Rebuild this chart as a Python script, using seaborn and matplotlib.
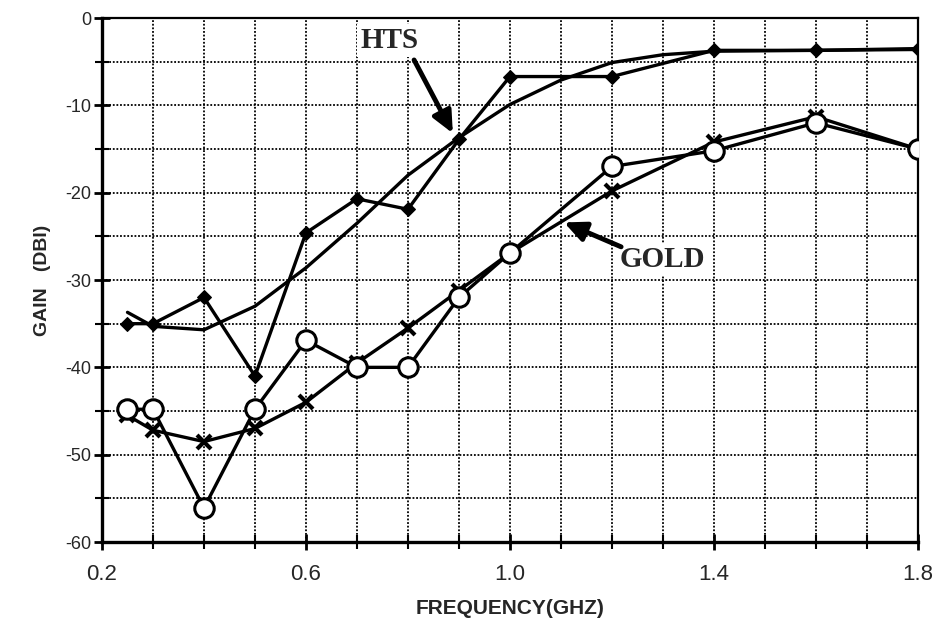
import numpy as np
import pandas as pd
import matplotlib
matplotlib.use("Agg")
import matplotlib.pyplot as plt
from matplotlib.ticker import MultipleLocator, FixedLocator, FormatStrFormatter
import seaborn as sns

# ==================== DATA ====================
freq = [0.25, 0.3, 0.4, 0.5, 0.6, 0.7, 0.8, 0.9, 1.0, 1.2, 1.4, 1.6, 1.8]
hts_meas = [-35.0, -35.0, -32.0, -41.0, -24.6, -20.7, -21.9, -13.9, -6.7, -6.7, -3.7, -3.7, -3.6]
gold_circle = [-44.8, -44.8, -56.1, -44.8, -36.9, -40.0, -40.0, -32.0, -26.9, -17.0, -15.2, -12.0, -15.0]
gold_cross = [-45.5, -47.2, -48.5, -47.0, -44.0, -39.5, -35.5, -31.2, -26.9, -19.8, -14.2, -11.3, -15.0]

# smooth (fitted) HTS curve, no markers
hts_fit_freq = [0.25, 0.3, 0.4, 0.5, 0.6, 0.7, 0.8, 0.9, 1.0, 1.1, 1.2, 1.3, 1.4, 1.6, 1.8]
hts_fit = [-33.7, -35.3, -35.7, -33.0, -28.6, -23.5, -18.0, -13.7, -9.9, -7.1, -5.1, -4.2, -3.8, -3.7, -3.5]

x_major = [0.2, 0.6, 1.0, 1.4, 1.8]
# ==============================================

sns.set_style("white")
plt.rcParams['font.family'] = ['Liberation Sans', 'DejaVu Sans']

fig = plt.figure(figsize=(9.4, 6.22), dpi=100)
ax = fig.add_axes([0.1085, 0.1286, 0.868, 0.8424])

lw = 2.4
sns.lineplot(x=hts_fit_freq, y=hts_fit, ax=ax, color='black', linewidth=lw, zorder=3)
sns.lineplot(x=freq, y=hts_meas, ax=ax, color='black', linewidth=lw, marker='D',
             markersize=7.5, markerfacecolor='black', markeredgecolor='black', zorder=4)
sns.lineplot(x=freq, y=gold_cross, ax=ax, color='black', linewidth=lw, marker='x',
             markersize=10, markeredgewidth=3, markeredgecolor='black', zorder=4)
sns.lineplot(x=freq, y=gold_circle, ax=ax, color='black', linewidth=lw, marker='o',
             markersize=14, markerfacecolor='white', markeredgecolor='black',
             markeredgewidth=2.2, zorder=5)

ax.set_xlim(0.2, 1.8)
ax.set_ylim(-60, 0)
ax.xaxis.set_major_locator(FixedLocator(x_major))
ax.xaxis.set_minor_locator(MultipleLocator(0.1))
ax.yaxis.set_major_locator(MultipleLocator(10))
ax.yaxis.set_minor_locator(MultipleLocator(5))
ax.xaxis.set_major_formatter(FormatStrFormatter('%.1f'))
ax.yaxis.set_major_formatter(FormatStrFormatter('%d'))

ax.grid(True, which='both', color='black', linestyle=(0, (1, 1)), linewidth=1.3, zorder=1)
ax.set_axisbelow(True)

for side in ['left', 'bottom']:
    ax.spines[side].set_linewidth(2.4)
for side in ['top', 'right']:
    ax.spines[side].set_linewidth(1.6)
for s in ax.spines.values():
    s.set_color('black')

ax.tick_params(axis='both', which='major', direction='inout', length=12, width=2, color='black')
ax.tick_params(axis='both', which='minor', direction='inout', length=10, width=1.5, color='black')
ax.tick_params(axis='x', which='major', labelsize=16, pad=10)
ax.tick_params(axis='y', which='major', labelsize=13, pad=2)
ax.tick_params(bottom=True, left=True, which='both')

ax.set_xlabel('FREQUENCY(GHZ)', fontsize=15, fontweight='bold', labelpad=10)
ax.set_ylabel('GAIN   (DBI)', fontsize=14, fontweight='bold', labelpad=10)

serif = ['Liberation Serif', 'DejaVu Serif']
arrow = dict(arrowstyle='-|>,head_length=1.3,head_width=0.6', color='black', lw=3.5,
             shrinkA=0, shrinkB=0)
ax.text(0.763, -2.6, 'HTS', family=serif, fontsize=21, fontweight='bold', ha='center', va='center',
        bbox=dict(facecolor='white', edgecolor='none', pad=2), zorder=6)
ax.annotate('', xy=(0.888, -13.2), xytext=(0.812, -4.8), arrowprops=arrow, zorder=6)
ax.text(1.298, -27.6, 'GOLD', family=serif, fontsize=21, fontweight='bold', ha='center', va='center',
        bbox=dict(facecolor='white', edgecolor='none', pad=2), zorder=6)
ax.annotate('', xy=(1.106, -23.4), xytext=(1.218, -26.2), arrowprops=arrow, zorder=6)

fig.savefig('out.png', dpi=100)
